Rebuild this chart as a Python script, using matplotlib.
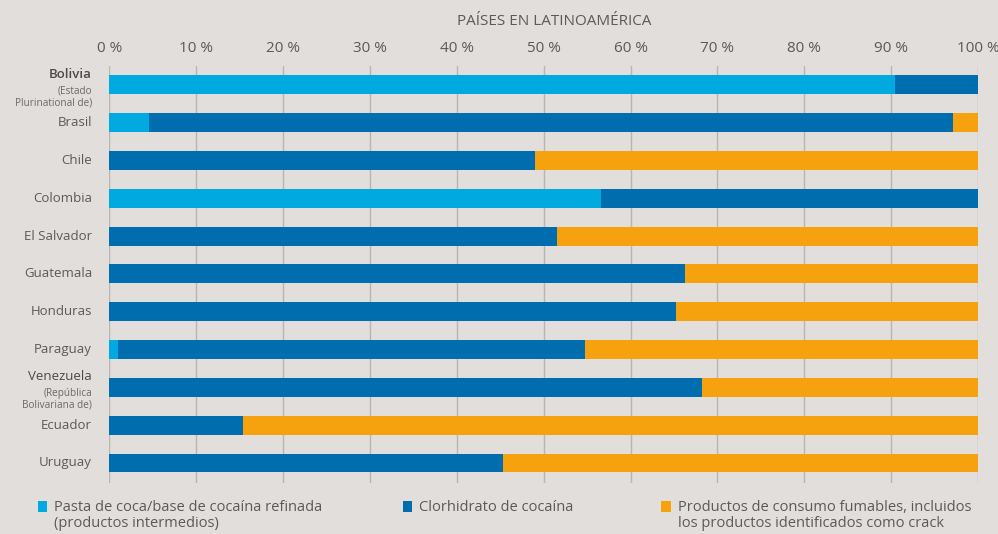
import matplotlib.pyplot as plt
from matplotlib.patches import Rectangle
import numpy as np

plt.rcParams['font.family'] = ['Open Sans', 'DejaVu Sans']

countries = ["Bolivia", "Brasil", "Chile", "Colombia", "El Salvador", "Guatemala",
             "Honduras", "Paraguay", "Venezuela", "Ecuador", "Uruguay"]
subtitles = {"Bolivia": "(Estado\nPlurinational de)",
             "Venezuela": "(República\nBolivariana de)"}

pasta = [90.4, 4.5, 0, 56.6, 0, 0, 0, 1.0, 0, 0, 0]
clorhidrato = [9.6, 92.6, 49.0, 43.4, 51.5, 66.3, 65.2, 53.7, 68.2, 15.4, 45.3]
fumables = [0, 2.9, 51.0, 0, 48.5, 33.7, 34.8, 45.3, 31.8, 84.6, 54.7]

labels = ["Pasta de coca/base de cocaína refinada\n(productos intermedios)",
          "Clorhidrato de cocaína",
          "Productos de consumo fumables, incluidos\nlos productos identificados como crack"]
colors = ["#00a9e0", "#006eae", "#f6a20e"]

bg = "#e1dedb"
txt = "#5a5a5a"

fig = plt.figure(figsize=(9.98, 5.34), dpi=100, facecolor=bg)
ax = fig.add_axes([0.1097, 0.0955, 0.8703, 0.7809], facecolor=bg)

y = np.arange(len(countries))
left = np.zeros(len(countries))
for vals, c in zip([pasta, clorhidrato, fumables], colors):
    ax.barh(y, vals, left=left, height=0.5, color=c, zorder=2)
    left += np.array(vals)

ax.set_xlim(0, 100)
ax.set_ylim(len(countries) - 0.47, -0.5)
ax.set_xticks(np.arange(0, 101, 10))
ax.set_xticklabels([f"{v} %" for v in range(0, 101, 10)], fontsize=11, color=txt)
ax.xaxis.tick_top()
ax.tick_params(axis='x', length=0, pad=7)
ax.set_yticks([])
ax.grid(axis='x', color="#b8b5b2", linewidth=1, zorder=0)
for s in ax.spines.values():
    s.set_visible(False)

trans = ax.get_yaxis_transform()
for i, name in enumerate(countries):
    if name in subtitles:
        ax.text(-0.02, i - 0.28, name, transform=trans, ha='right', va='center',
                fontsize=9.5, color="#4a4a4a",
                fontweight='semibold' if name == "Bolivia" else 'normal')
        ax.text(-0.02, i + 0.02, subtitles[name], transform=trans, ha='right', va='top',
                fontsize=7.2, color="#6a6a6a", linespacing=1.05)
    else:
        ax.text(-0.02, i, name, transform=trans, ha='right', va='center',
                fontsize=9.5, color=txt)

fig.text(0.555, 0.96, "PAÍSES EN LATINOAMÉRICA", ha='center', va='center',
         fontsize=11, color=txt)

# legend
leg_x = [0.0376, 0.4038, 0.6627]
for lx, lab, c in zip(leg_x, labels, colors):
    fig.patches.append(Rectangle((lx, 0.0412), 0.0095, 0.0215, transform=fig.transFigure,
                                 facecolor=c, edgecolor='none'))
    fig.text(lx + 0.0165, 0.064, lab, ha='left', va='top', fontsize=10.5,
             color=txt, linespacing=1.15)

fig.savefig("out.png", dpi=100, facecolor=bg)
